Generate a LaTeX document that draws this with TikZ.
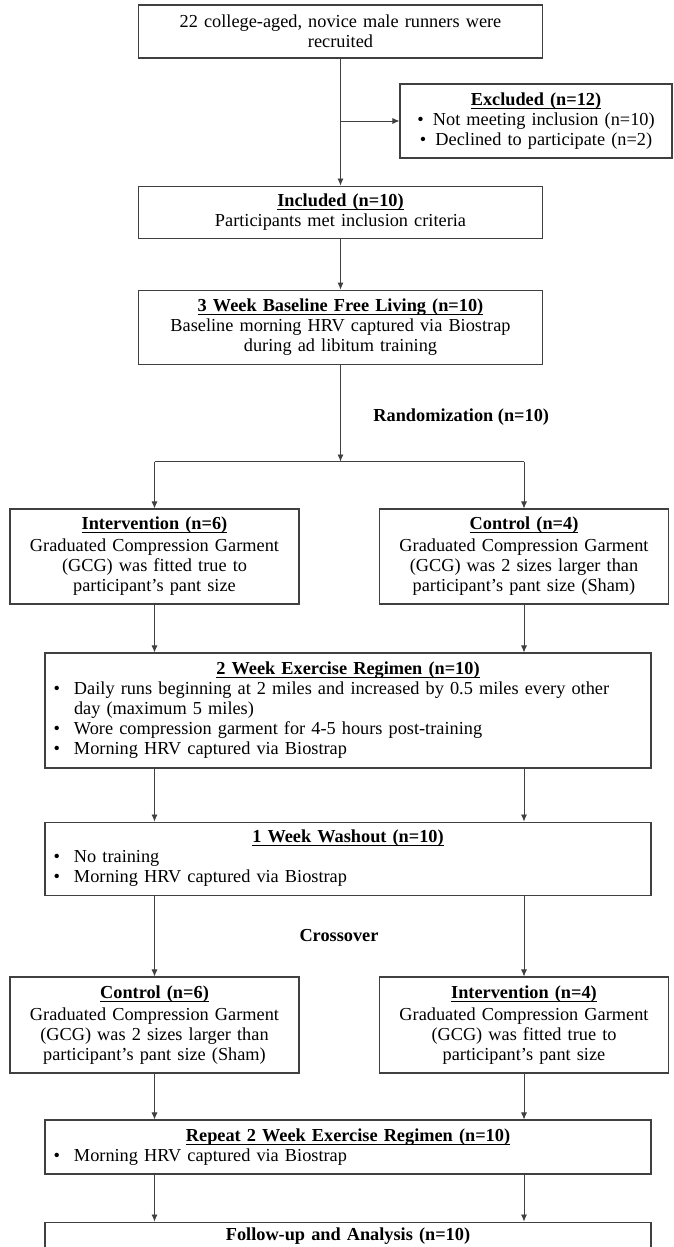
\documentclass[tikz,border=0pt]{standalone}
\usepackage{fontspec}
\setmainfont{Liberation Serif}
\usepackage{tikz}
\usetikzlibrary{positioning}
\usetikzlibrary{arrows,arrows.meta}

\newsavebox{\ttlbox}
\newcommand{\ttl}[1]{\sbox{\ttlbox}{\textbf{#1}}\rlap{\rule[-3.5pt]{\wd\ttlbox}{1pt}}\usebox{\ttlbox}}
\newcommand{\itm}[1]{\par\hangindent=23pt\hangafter=1\noindent\makebox[23pt][l]{\hspace{2.5pt}\textbullet}#1}

\begin{document}
\begin{tikzpicture}[x=1pt,y=-1pt,->,>={Latex[length=7pt,width=6pt]},line width=0.8pt,draw=black!75,
	box/.style={draw=black!75,line width=1.1pt,fill=white,inner xsep=6pt,inner ysep=2pt,align=center,font=\fontsize{18.3}{20}\selectfont},
	narrow/.style={text width=392pt},
	side/.style={text width=277pt},
	wide/.style={text width=594pt,align=left},
	lbl/.style={inner sep=0pt,font=\fontsize{18.3}{20}\selectfont\bfseries}]

	\useasboundingbox (0,0) rectangle (673,1247);

	\node[box,narrow,minimum height=53pt] (recruit) at (340.5,31.5) {22 college-aged, novice male runners were\\recruited};
	\node[box,narrow,minimum height=52pt,below=127pt of recruit] (incl) {\ttl{Included (n=10)}\\Participants met inclusion criteria};
	\node[box,text width=260pt,minimum height=74pt] (excl) at (536,121) {\ttl{Excluded (n=12)}\\\textbullet\enspace Not meeting inclusion (n=10)\\\textbullet\enspace Declined to participate (n=2)};
	\node[box,narrow,minimum height=74pt,below=51pt of incl] (base) {\ttl{3 Week Baseline Free Living (n=10)}\\Baseline morning HRV captured via Biostrap\\during ad libitum training};

	\node[lbl,anchor=west] (rand) at (373,417) {Randomization (n=10)};

	\node[box,side,minimum height=95pt] (intA) at (154.5,556.5) {\ttl{Intervention (n=6)}\\[2pt]Graduated Compression Garment\\(GCG) was fitted true to\\participant’s pant size};
	\node[box,side,minimum height=95pt] (ctlB) at (524,556.5) {\ttl{Control (n=4)}\\[2pt]Graduated Compression Garment\\(GCG) was 2 sizes larger than\\participant’s pant size (Sham)};

	\node[box,wide,minimum height=115pt] (exer) at (348,710.5) {{\centering\ttl{2 Week Exercise Regimen (n=10)}\par}
		\itm{Daily runs beginning at 2 miles and increased by 0.5 miles every other\newline day (maximum 5 miles)}
		\itm{Wore compression garment for 4-5 hours post-training}
		\itm{Morning HRV captured via Biostrap}};
	\node[box,wide,minimum height=73pt,below=53pt of exer] (wash) {{\centering\ttl{1 Week Washout (n=10)}\par}
		\itm{No training}
		\itm{Morning HRV captured via Biostrap}};

	\node[lbl] (cross) at (339,936) {Crossover};

	\node[box,side,minimum height=96pt] (ctlA) at (154.5,1025) {\ttl{Control (n=6)}\\[2pt]Graduated Compression Garment\\(GCG) was 2 sizes larger than\\participant’s pant size (Sham)};
	\node[box,side,minimum height=96pt] (intB) at (524,1025) {\ttl{Intervention (n=4)}\\[2pt]Graduated Compression Garment\\(GCG) was fitted true to\\participant’s pant size};

	\node[box,wide,minimum height=54pt] (rep) at (348,1147) {{\centering\ttl{Repeat 2 Week Exercise Regimen (n=10)}\par}
		\itm{Morning HRV captured via Biostrap}};
	\node[box,wide,inner ysep=6pt,text depth=40pt,below=47pt of rep] (follow) {{\centering\textbf{Follow-up and Analysis (n=10)}\par}};

	% enrolment
	\coordinate (ex) at (recruit.south |- excl.west);
	\draw (recruit) -- (incl);
	\draw (ex) -- (excl);
	\draw (incl) -- (base);

	% randomisation
	\coordinate (fork) at (340.5,461.5);
	\draw (base) -- (fork);
	\draw[-] (intA.north |- fork) -- (ctlB.north |- fork);
	\draw (intA.north |- fork) -- (intA);
	\draw (ctlB.north |- fork) -- (ctlB);

	% first period and washout
	\draw (intA) -- (intA |- exer.north);
	\draw (ctlB) -- (ctlB |- exer.north);
	\draw (exer.south -| intA) -- (wash.north -| intA);
	\draw (exer.south -| ctlB) -- (wash.north -| ctlB);

	% crossover
	\draw (wash.south -| ctlA) -- (ctlA);
	\draw (wash.south -| intB) -- (intB);
	\draw (ctlA) -- (ctlA |- rep.north);
	\draw (intB) -- (intB |- rep.north);
	\draw (rep.south -| ctlA) -- (follow.north -| ctlA);
	\draw (rep.south -| intB) -- (follow.north -| intB);
\end{tikzpicture}
\end{document}
